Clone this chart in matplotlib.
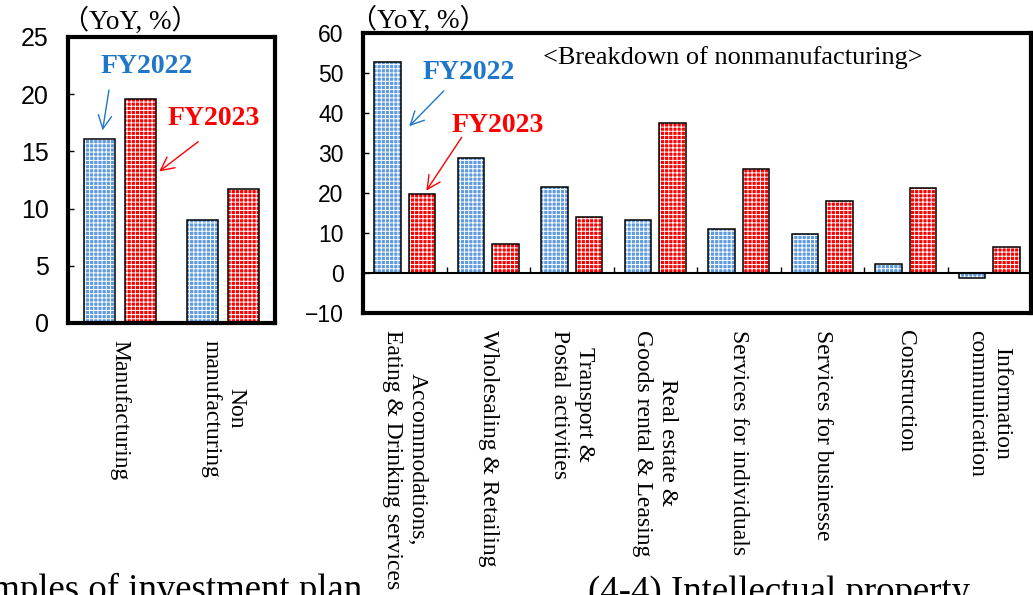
import matplotlib.pyplot as plt
import numpy as np

plt.rcParams['hatch.color'] = 'white'
plt.rcParams['hatch.linewidth'] = 0.7

W, H = 1033, 595

# manufacturing vs nonmanufacturing
main_cats = ["Manufacturing", "Non\nmanufacturing"]
main_fy22 = [16.1, 9.0]
main_fy23 = [19.6, 11.7]

# breakdown of nonmanufacturing
sub_cats = ["Accommodations,\nEating & Drinking services",
            "Wholesaling & Retailing",
            "Transport &\nPostal activities",
            "Real estate &\nGoods rental & Leasing",
            "Services for individuals",
            "Services for businesse",
            "Construction",
            "Information\ncommunication"]
sub_fy22 = [52.8, 28.8, 21.6, 13.2, 10.9, 9.8, 2.3, -1.2]
sub_fy23 = [19.7, 7.3, 14.1, 37.4, 25.9, 17.9, 21.2, 6.6]

blue = '#5e9ade'
red = '#ff0000'
serif = ['Liberation Serif', 'Noto Sans CJK JP']
sans = 'Liberation Sans'


def pix_axes(fig, x0, y0, x1, y1):
    return fig.add_axes([x0 / W, 1 - y1 / H, (x1 - x0) / W, (y1 - y0) / H])


def draw_bars(ax, x, v22, v23, width, off):
    ax.bar(x - off, v22, width, color=blue, hatch='++++', edgecolor='white', linewidth=0, zorder=2)
    ax.bar(x - off, v22, width, fill=False, edgecolor='black', linewidth=1.1, zorder=3)
    ax.bar(x + off, v23, width, color=red, hatch='++++', edgecolor='white', linewidth=0, zorder=2)
    ax.bar(x + off, v23, width, fill=False, edgecolor='black', linewidth=1.1, zorder=3)


def style(ax, cats, ysize):
    for s in ax.spines.values():
        s.set_linewidth(3)
    ax.tick_params(axis='y', direction='in', length=4, width=1, labelsize=ysize, pad=14)
    for t in ax.get_yticklabels():
        t.set_fontfamily(sans)
    ax.set_xticks(np.arange(len(cats)))
    ax.set_xticklabels(cats, rotation=270, va='top', ha='center', fontsize=17,
                       family=serif, linespacing=1.25)
    ax.tick_params(axis='x', length=0, pad=12)


fig = plt.figure(figsize=(W / 100, H / 100), dpi=100)

# left panel
ax1 = pix_axes(fig, 68, 37, 275, 323)
x1 = np.arange(len(main_cats))
draw_bars(ax1, x1, main_fy22, main_fy23, 0.3, 0.2)
ax1.set_xlim(-0.5, 1.5)
ax1.set_ylim(0, 25)
ax1.set_yticks(np.arange(0, 26, 5))
style(ax1, main_cats, 18)

ax1.annotate("", xy=(-0.17, 16.6), xytext=(-0.10, 20.6),
             arrowprops=dict(arrowstyle='->', color='#1f77c8', lw=1, mutation_scale=24))
ax1.annotate("", xy=(0.36, 13.1), xytext=(0.78, 16.0),
             arrowprops=dict(arrowstyle='->', color='red', lw=1, mutation_scale=24))
ax1.text(0.26, 22.4, "FY2022", color='#1f77c8', fontsize=20, fontweight='bold',
         family=serif, ha='center', va='center')
ax1.text(0.91, 17.9, "FY2023", color='red', fontsize=20, fontweight='bold',
         family=serif, ha='center', va='center')
fig.text(62 / W, 1 - 21 / H, "（YoY, %）", fontsize=19.5, family=serif, ha='left', va='center')

# right panel
ax2 = pix_axes(fig, 363, 33, 1031, 313)
x2 = np.arange(len(sub_cats))
draw_bars(ax2, x2, sub_fy22, sub_fy23, 0.32, 0.205)
ax2.set_xlim(-0.5, len(sub_cats) - 0.5)
ax2.set_ylim(-10, 60)
ax2.set_yticks(np.arange(-10, 61, 10))
style(ax2, sub_cats, 16.5)
ax2.axhline(0, color='black', lw=1.5, zorder=4)
ax2.vlines(x2[:-1] + 0.5, 0, 1.6, color='black', lw=1, zorder=4)

ax2.annotate("", xy=(0.03, 36.2), xytext=(0.49, 46),
             arrowprops=dict(arrowstyle='->', color='#1f77c8', lw=1, mutation_scale=24))
ax2.annotate("", xy=(0.24, 20), xytext=(0.70, 34.5),
             arrowprops=dict(arrowstyle='->', color='red', lw=1, mutation_scale=24))
ax2.text(0.77, 50.2, "FY2022", color='#1f77c8', fontsize=20, fontweight='bold',
         family=serif, ha='center', va='center')
ax2.text(1.11, 37, "FY2023", color='red', fontsize=20, fontweight='bold',
         family=serif, ha='center', va='center')
ax2.text(3.93, 53.8, "<Breakdown of nonmanufacturing>", fontsize=19, family=serif,
         ha='center', va='center')
fig.text(350 / W, 1 - 20 / H, "（YoY, %）", fontsize=19.5, family=serif, ha='left', va='center')

# section headings running off the bottom edge
fig.text(362 / W, 1 - 600 / H, "Examples of investment plan", fontsize=26.5, family=serif,
         ha='right', va='baseline')
fig.text(588 / W, 1 - 602 / H, "(4-4) Intellectual property", fontsize=26.5, family=serif,
         ha='left', va='baseline')

fig.savefig('out.png', dpi=100)
